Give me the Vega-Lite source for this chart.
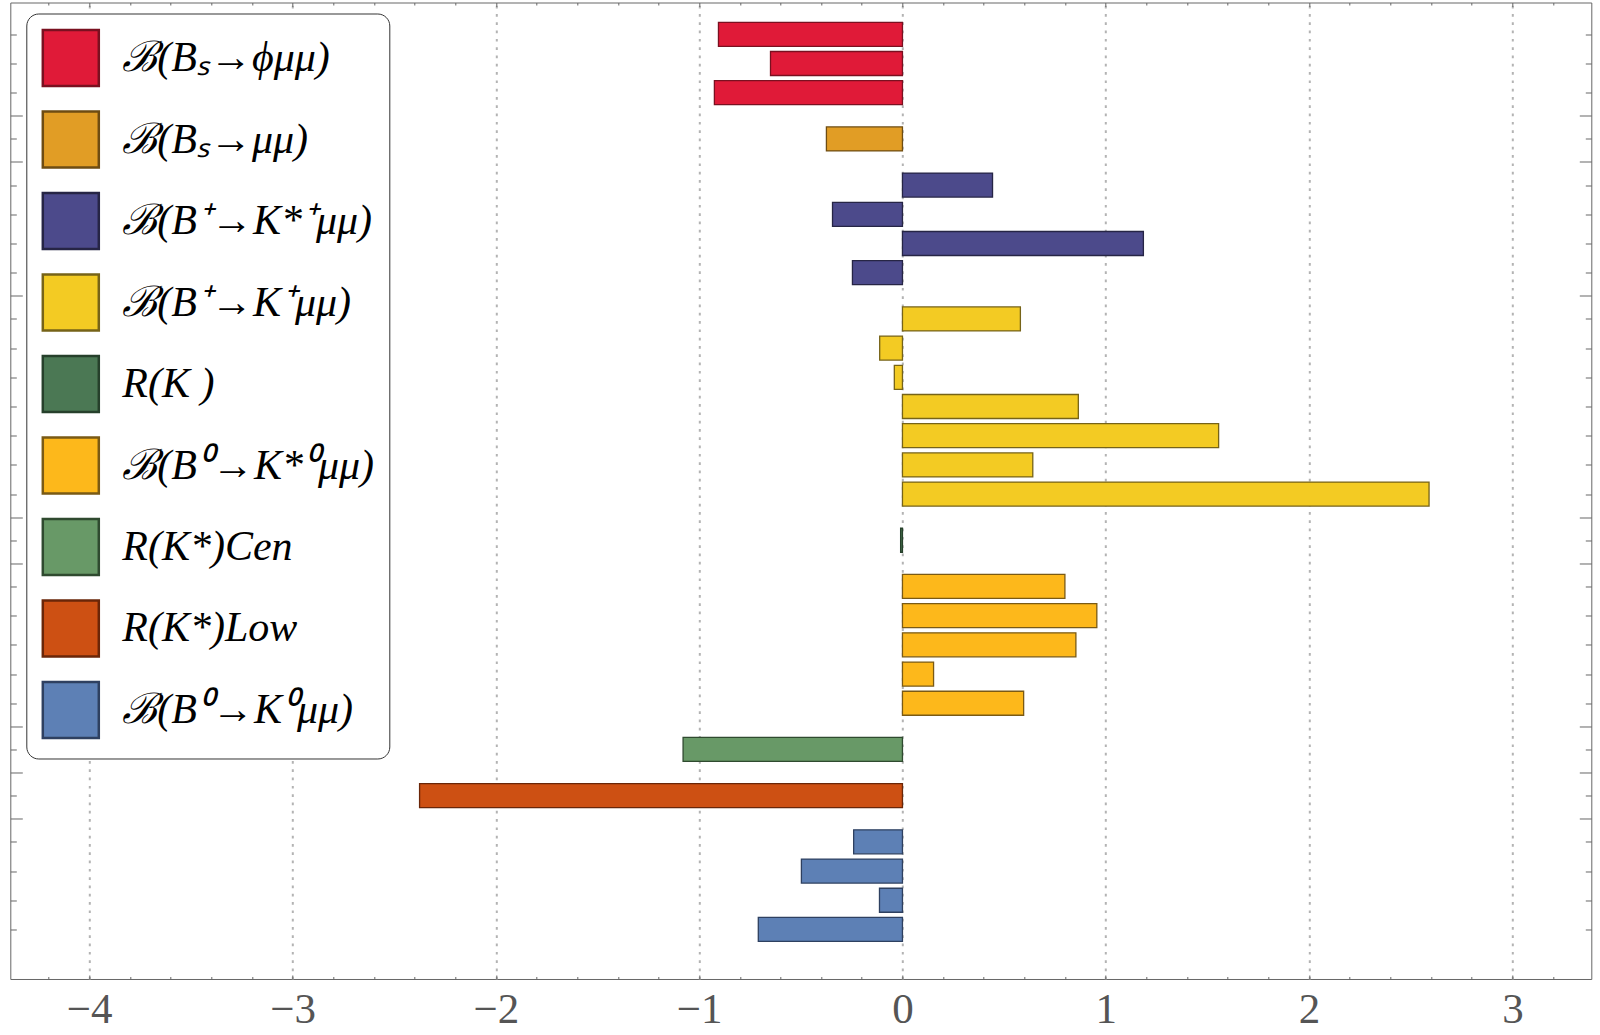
{
  "$schema": "https://vega.github.io/schema/vega-lite/v6.json",
  "width": 1581,
  "height": 976.5,
  "padding": {"left": 9.3, "top": 1.5, "right": 5, "bottom": 5},
  "background": "white",
  "config": {
    "view": {"stroke": "#666666", "strokeWidth": 1},
    "font": "Liberation Serif"
  },
  "data": {
    "values": [
      {"process": "ℬ(Bₛ→ϕμμ)", "slot": 0, "value": -0.905},
      {"process": "ℬ(Bₛ→ϕμμ)", "slot": 1, "value": -0.649},
      {"process": "ℬ(Bₛ→ϕμμ)", "slot": 2, "value": -0.925},
      {"process": "ℬ(Bₛ→μμ)", "slot": 3.582, "value": -0.374},
      {"process": "ℬ(B⁺→K*⁺μμ)", "slot": 5.164, "value": 0.443},
      {"process": "ℬ(B⁺→K*⁺μμ)", "slot": 6.164, "value": -0.344},
      {"process": "ℬ(B⁺→K*⁺μμ)", "slot": 7.164, "value": 1.185},
      {"process": "ℬ(B⁺→K*⁺μμ)", "slot": 8.164, "value": -0.246},
      {"process": "ℬ(B⁺→K⁺μμ)", "slot": 9.746, "value": 0.58},
      {"process": "ℬ(B⁺→K⁺μμ)", "slot": 10.746, "value": -0.112},
      {"process": "ℬ(B⁺→K⁺μμ)", "slot": 11.746, "value": -0.04},
      {"process": "ℬ(B⁺→K⁺μμ)", "slot": 12.746, "value": 0.865},
      {"process": "ℬ(B⁺→K⁺μμ)", "slot": 13.746, "value": 1.555},
      {"process": "ℬ(B⁺→K⁺μμ)", "slot": 14.746, "value": 0.641},
      {"process": "ℬ(B⁺→K⁺μμ)", "slot": 15.746, "value": 2.59},
      {"process": "R(K )", "slot": 17.328, "value": -0.009},
      {"process": "ℬ(B⁰→K*⁰μμ)", "slot": 18.91, "value": 0.799},
      {"process": "ℬ(B⁰→K*⁰μμ)", "slot": 19.91, "value": 0.956},
      {"process": "ℬ(B⁰→K*⁰μμ)", "slot": 20.91, "value": 0.853},
      {"process": "ℬ(B⁰→K*⁰μμ)", "slot": 21.91, "value": 0.153},
      {"process": "ℬ(B⁰→K*⁰μμ)", "slot": 22.91, "value": 0.596},
      {"process": "R(K*)Cen", "slot": 24.492, "value": -1.079},
      {"process": "R(K*)Low", "slot": 26.074, "value": -2.375},
      {"process": "ℬ(B⁰→K⁰μμ)", "slot": 27.656, "value": -0.24},
      {"process": "ℬ(B⁰→K⁰μμ)", "slot": 28.656, "value": -0.497},
      {"process": "ℬ(B⁰→K⁰μμ)", "slot": 29.656, "value": -0.113},
      {"process": "ℬ(B⁰→K⁰μμ)", "slot": 30.656, "value": -0.709}
    ]
  },
  "layer": [
    {
      "mark": {"type": "bar", "orient": "horizontal", "size": 24, "strokeWidth": 1.3},
      "encoding": {
        "x": {
          "field": "value",
          "type": "quantitative",
          "scale": {"domain": [-4.388, 3.388], "nice": false, "zero": false, "padding": 0},
          "axis": {
            "orient": "bottom",
            "title": null,
            "zindex": 0,
            "domain": false,
            "values": [-4.2, -4, -3.8, -3.6, -3.4, -3.2, -3, -2.8, -2.6, -2.4, -2.2, -2, -1.8, -1.6, -1.4, -1.2, -1, -0.8, -0.6, -0.4, -0.2, 0, 0.2, 0.4, 0.6, 0.8, 1, 1.2, 1.4, 1.6, 1.8, 2, 2.2, 2.4, 2.6, 2.8, 3, 3.2],
            "tickColor": "#666666",
            "tickSize": {"condition": {"test": "abs(datum.value - round(datum.value)) < 0.001", "value": -4}, "value": -2.5},
            "labelExpr": "abs(datum.value - round(datum.value)) < 0.001 ? format(round(datum.value), 'd') : ''",
            "labelFont": "Liberation Serif",
            "labelFontSize": 43,
            "labelColor": "#555555",
            "labelPadding": 14,
            "labelOverlap": false,
            "labelFlush": false,
            "grid": true,
            "gridColor": "#b3b3b3",
            "gridDash": [2.7, 5.6],
            "gridWidth": 2,
            "gridOpacity": {"condition": {"test": "abs(datum.value - round(datum.value)) < 0.001", "value": 1}, "value": 0}
          }
        },
        "x2": {"datum": 0},
        "y": {
          "field": "slot",
          "type": "quantitative",
          "scale": {"domain": [-1.089, 32.353], "reverse": true, "nice": false, "zero": false, "padding": 0},
          "axis": {
            "orient": "left",
            "title": null,
            "domain": false,
            "grid": false,
            "labels": false,
            "values": [0, 1, 2, 2.791, 3.582, 4.373, 5.164, 6.164, 7.164, 8.164, 8.955, 9.746, 10.746, 11.746, 12.746, 13.746, 14.746, 15.746, 16.537, 17.328, 18.119, 18.91, 19.91, 20.91, 21.91, 22.91, 23.701, 24.492, 25.283, 26.074, 26.865, 27.656, 28.656, 29.656, 30.656],
            "tickColor": "#666666",
            "tickSize": {"condition": {"test": "indexof([2.791, 4.373, 8.955, 16.537, 18.119, 23.701, 25.283, 26.865], datum.value) >= 0", "value": -12}, "value": -6}
          }
        },
        "color": {
          "field": "process",
          "type": "nominal",
          "scale": {
            "domain": ["ℬ(Bₛ→ϕμμ)", "ℬ(Bₛ→μμ)", "ℬ(B⁺→K*⁺μμ)", "ℬ(B⁺→K⁺μμ)", "R(K )", "ℬ(B⁰→K*⁰μμ)", "R(K*)Cen", "R(K*)Low", "ℬ(B⁰→K⁰μμ)"],
            "range": ["#e01a38", "#e19d25", "#4c4a8b", "#f3cb23", "#4b7854", "#fdb81b", "#689967", "#cd5013", "#5d80b5"]
          },
          "legend": {
            "orient": "none",
            "legendX": 16,
            "legendY": 11,
            "title": null,
            "symbolType": "square",
            "symbolSize": 3136,
            "symbolStrokeColor": "#a8a8a8",
            "symbolStrokeWidth": 2.5,
            "symbolOpacity": 1,
            "labelFont": "Liberation Serif",
            "labelFontSize": 42,
            "labelFontStyle": "italic",
            "labelColor": "black",
            "labelOffset": 22,
            "labelLimit": 500,
            "rowPadding": 14.5,
            "padding": 15,
            "cornerRadius": 12,
            "strokeColor": "#333333",
            "fillColor": "white",
            "encode": {"symbols": {"update": {"stroke": {"value": "#a8a8a8"}, "strokeWidth": {"value": 2.5}}}}
          }
        },
        "stroke": {
          "field": "process",
          "type": "nominal",
          "scale": {
            "domain": ["ℬ(Bₛ→ϕμμ)", "ℬ(Bₛ→μμ)", "ℬ(B⁺→K*⁺μμ)", "ℬ(B⁺→K⁺μμ)", "R(K )", "ℬ(B⁰→K*⁰μμ)", "R(K*)Cen", "R(K*)Low", "ℬ(B⁰→K⁰μμ)"],
            "range": ["#7a1020", "#6e4c12", "#262545", "#766318", "#26402b", "#7a5a14", "#2f4a2f", "#6a2608", "#2e4060"]
          },
          "legend": null
        }
      }
    },
    {
      "mark": {"type": "point", "opacity": 0},
      "encoding": {
        "x": {
          "field": "value",
          "type": "quantitative",
          "axis": {
            "orient": "top",
            "title": null,
            "domain": false,
            "grid": false,
            "labels": false,
            "values": [-4.2, -4, -3.8, -3.6, -3.4, -3.2, -3, -2.8, -2.6, -2.4, -2.2, -2, -1.8, -1.6, -1.4, -1.2, -1, -0.8, -0.6, -0.4, -0.2, 0, 0.2, 0.4, 0.6, 0.8, 1, 1.2, 1.4, 1.6, 1.8, 2, 2.2, 2.4, 2.6, 2.8, 3, 3.2],
            "tickColor": "#666666",
            "tickSize": {"condition": {"test": "abs(datum.value - round(datum.value)) < 0.001", "value": -4}, "value": -2.5}
          }
        },
        "y": {
          "field": "slot",
          "type": "quantitative",
          "axis": {
            "orient": "right",
            "title": null,
            "domain": false,
            "grid": false,
            "labels": false,
            "values": [0, 1, 2, 2.791, 3.582, 4.373, 5.164, 6.164, 7.164, 8.164, 8.955, 9.746, 10.746, 11.746, 12.746, 13.746, 14.746, 15.746, 16.537, 17.328, 18.119, 18.91, 19.91, 20.91, 21.91, 22.91, 23.701, 24.492, 25.283, 26.074, 26.865, 27.656, 28.656, 29.656, 30.656],
            "tickColor": "#666666",
            "tickSize": {"condition": {"test": "indexof([2.791, 4.373, 8.955, 16.537, 18.119, 23.701, 25.283, 26.865], datum.value) >= 0", "value": -12}, "value": -6}
          }
        }
      }
    }
  ],
  "resolve": {"axis": {"x": "independent", "y": "independent"}}
}
